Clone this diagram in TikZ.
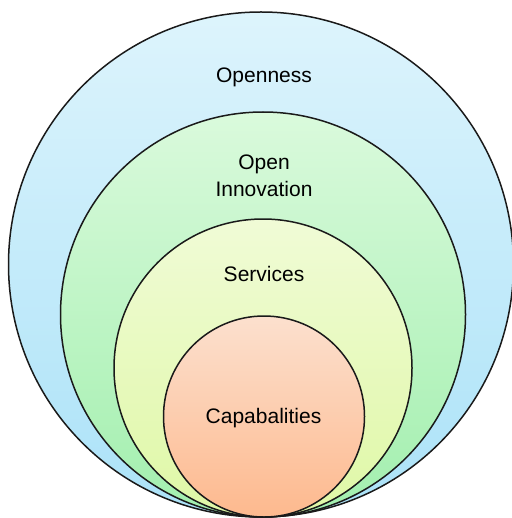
\documentclass[tikz,border=0pt]{standalone}
\usepackage{fontspec}
\setmainfont{Liberation Sans}
\usepackage{tikz}

\definecolor{ringline}{HTML}{1A1A1A}
\definecolor{bluetop}{HTML}{DDF4FC}
\definecolor{bluebot}{HTML}{ABE2F8}
\definecolor{greentop}{HTML}{DAFADC}
\definecolor{greenbot}{HTML}{A2EFAE}
\definecolor{yellowtop}{HTML}{F0FBD6}
\definecolor{yellowbot}{HTML}{DFF8A6}
\definecolor{peachtop}{HTML}{FCE0CE}
\definecolor{peachbot}{HTML}{FDB98E}

\begin{document}
\begin{tikzpicture}[x=0.5pt, y=-0.5pt,
		ring/.style={circle, draw=ringline, line width=0.75pt, inner sep=0pt},
		lbl/.style={align=center, font=\fontsize{10.5}{13.5}\selectfont}]
			\useasboundingbox (0,0) rectangle (512,518);

			% nested circles, all touching at the bottom
			\node[ring, minimum size=252.5pt, top color=bluetop, bottom color=bluebot] (openness) at (261,264.5) {};
			\node[ring, minimum size=202.5pt, top color=greentop, bottom color=greenbot] (innov) at (263,314.5) {};
			\node[ring, minimum size=149pt, top color=yellowtop, bottom color=yellowbot] (services) at (263,368) {};
			\node[ring, minimum size=100.5pt, top color=peachtop, bottom color=peachbot] (capab) at (264,416.5) {};

			\node[lbl] (l_openness) at (264,77) {Openness};
			\node[lbl] (l_innov) at (264,176) {Open\\Innovation};
			\node[lbl] (l_services) at (264,274) {Services};
			\node[lbl] (l_capab) at (263.5,418) {Capabalities};
		\end{tikzpicture}
\end{document}
